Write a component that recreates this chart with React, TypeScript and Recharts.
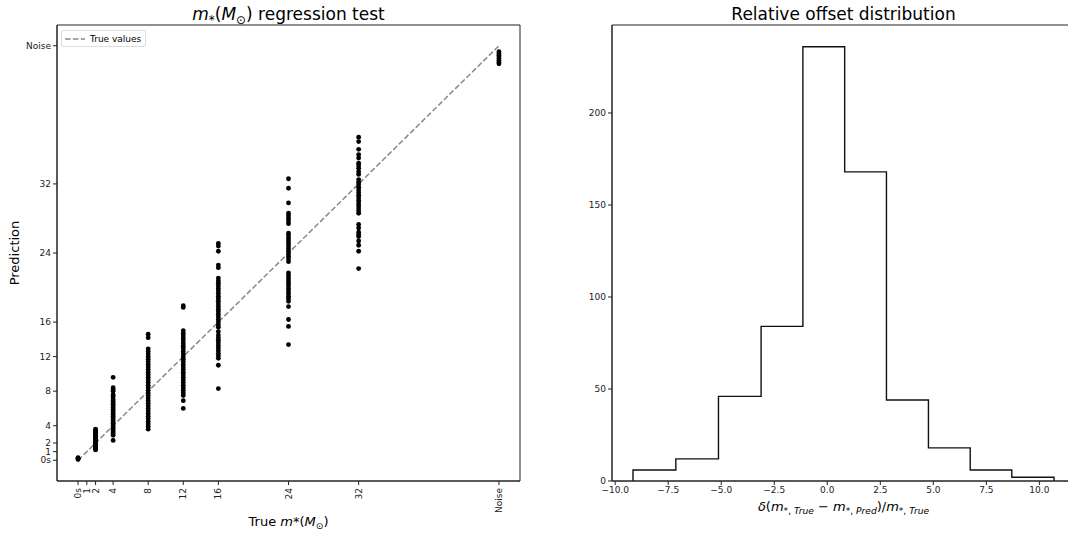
import React from 'react'
import { ComposedChart, Scatter, Line, XAxis, YAxis, ReferenceArea } from 'recharts'

// true stellar mass classes (Noise plotted at 48)
const trueMass = [0, 2, 4, 8, 12, 16, 24, 32, 48]
const massTicks = [0, 1, 2, 4, 8, 12, 16, 24, 32, 48]
const massTickLabels = ['0s', '1', '2', '4', '8', '12', '16', '24', '32', 'Noise']

// predictions read per class
const pred0 = [0.3, 0.2, 0.1, 0.15, 0.25]
const pred2 = [3.6, 3.5, 3.4, 3.3, 3.2, 3.1, 3.0, 2.9, 2.8, 2.7, 2.6, 2.5, 2.4, 2.3, 2.2, 2.1, 2.0, 1.9, 1.8, 1.7, 1.6, 1.5, 1.4, 1.3, 1.2]
const pred4 = [9.6, 8.4, 8.2, 8.0, 7.6, 7.4, 7.1, 6.9, 6.7, 6.5, 6.3, 6.1, 5.9, 5.7, 5.5, 5.3, 5.1, 4.9, 4.7, 4.5, 4.3, 4.1, 3.9, 3.7, 3.5, 3.3, 3.1, 2.9, 2.3]
const pred8 = [14.6, 14.2, 12.9, 12.6, 12.3, 12.0, 11.7, 11.4, 11.1, 10.8, 10.5, 10.2, 9.9, 9.6, 9.3, 9.0, 8.7, 8.4, 8.1, 7.8, 7.5, 7.2, 6.9, 6.6, 6.3, 6.0, 5.7, 5.4, 5.1, 4.8, 4.5, 4.2, 3.9, 3.6]
const pred12 = [17.9, 17.7, 15.0, 14.7, 14.4, 14.1, 13.8, 13.5, 13.2, 12.9, 12.6, 12.3, 12.0, 11.7, 11.4, 11.1, 10.8, 10.5, 10.2, 9.9, 9.6, 9.3, 9.0, 8.7, 8.4, 8.1, 7.8, 7.5, 6.9, 6.0]
const pred16 = [25.1, 24.8, 24.2, 22.6, 22.3, 21.1, 20.8, 20.5, 20.2, 19.9, 19.6, 19.3, 19.0, 18.7, 18.4, 18.1, 17.8, 17.5, 17.2, 16.9, 16.6, 16.3, 16.0, 15.7, 15.4, 14.9, 14.5, 14.2, 13.9, 13.6, 13.3, 13.0, 12.7, 12.4, 12.1, 11.8, 11.0, 8.3]
const pred24 = [32.6, 31.5, 29.8, 28.6, 28.3, 28.0, 27.7, 27.4, 26.3, 26.0, 25.7, 25.4, 25.1, 24.8, 24.5, 24.2, 23.9, 23.6, 23.3, 23.0, 21.7, 21.4, 21.1, 20.8, 20.5, 20.2, 19.9, 19.6, 19.3, 19.0, 18.7, 18.4, 17.8, 16.3, 15.5, 13.4]
const pred32 = [37.4, 36.9, 36.0, 35.4, 35.0, 34.4, 34.1, 33.8, 33.4, 33.1, 32.5, 32.2, 31.9, 31.6, 31.3, 31.0, 30.7, 30.4, 30.1, 29.8, 29.5, 29.2, 28.9, 28.6, 27.3, 26.9, 26.4, 26.1, 25.9, 25.4, 24.9, 24.2, 22.2]
const predNoise = [47.3, 47.1, 46.9, 46.7, 46.5, 46.3, 46.1, 45.9]

// histogram of relative offsets
const histEdges = [-9.16, -7.14, -5.13, -3.12, -1.15, 0.82, 2.79, 4.77, 6.74, 8.7, 10.69]
const histCounts = [6, 12, 46, 84, 236, 168, 44, 18, 6, 2]
const offsetTicks = [-10, -7.5, -5, -2.5, 0, 2.5, 5, 7.5, 10]
const countTicks = [0, 50, 100, 150, 200]

const massDomain = [-2.4, 50.4]
const offsetDomain = [-10.15, 11.68]
const countDomain = [0, 247.8]

const predictions = [pred0, pred2, pred4, pred8, pred12, pred16, pred24, pred32, predNoise]
const scatterData = trueMass.flatMap((m, i) => predictions[i].map(p => ({ x: m, y: p })))
const diagData = [
  { x: trueMass[0], y: trueMass[0] },
  { x: trueMass[trueMass.length - 1], y: trueMass[trueMass.length - 1] }
]
const stepData = [
  { x: histEdges[0], y: 0 },
  ...histCounts.map((c, i) => ({ x: histEdges[i], y: c })),
  { x: histEdges[histEdges.length - 1], y: 0 }
]

const FONT = 'DejaVu Sans, sans-serif'
const tickStyle = { fontSize: 9, fill: '#222', fontFamily: FONT }
const axisColor = '#222'

const massLabel = (v: number) => massTickLabels[massTicks.indexOf(v)] ?? String(v)
const fmtOffset = (v: number) => v.toFixed(1).replace('-', '\u2212')

const Dot = (props: any) => <circle cx={props.cx} cy={props.cy} r={2.4} fill='#000' />

const RotTick = (props: any) => {
  const { x, y, payload } = props
  return (
    <text
      x={x}
      y={y}
      transform={`rotate(-90 ${x} ${y})`}
      textAnchor='end'
      dy='0.35em'
      fontSize={9}
      fill='#222'
      fontFamily={FONT}
    >
      {massLabel(payload.value)}
    </text>
  )
}

const sub = { fontSize: '0.7em', verticalAlign: '-0.3em', lineHeight: 0 }

export default function App() {
  return (
    <div
      style={{
        position: 'absolute',
        left: 0,
        top: 0,
        width: 1068,
        height: 533,
        overflow: 'hidden',
        background: '#fff',
        fontFamily: FONT,
        color: '#000'
      }}
    >
      {/* left: regression scatter */}
      <div style={{ position: 'absolute', left: 0, top: 0 }}>
        <ComposedChart width={540} height={533} margin={{ top: 25, right: 20, bottom: 0, left: 0 }}>
          <XAxis
            xAxisId='b'
            type='number'
            dataKey='x'
            domain={massDomain}
            allowDataOverflow
            ticks={massTicks}
            interval={0}
            height={52}
            tick={<RotTick />}
            tickSize={4}
            tickMargin={3}
            stroke={axisColor}
          />
          <YAxis
            yAxisId='l'
            type='number'
            dataKey='y'
            domain={massDomain}
            allowDataOverflow
            ticks={massTicks}
            interval={0}
            width={57}
            tick={tickStyle}
            tickFormatter={massLabel}
            tickSize={4}
            tickMargin={2}
            stroke={axisColor}
          />
          <ReferenceArea
            xAxisId='b'
            yAxisId='l'
            x1={massDomain[0]}
            x2={massDomain[1]}
            y1={massDomain[0]}
            y2={massDomain[1]}
            fill='none'
            stroke={axisColor}
            strokeWidth={1}
            ifOverflow='visible'
          />
          <Line
            xAxisId='b'
            yAxisId='l'
            data={diagData}
            dataKey='y'
            type='linear'
            stroke='#888'
            strokeWidth={1.5}
            strokeDasharray='5.5 2.4'
            dot={false}
            activeDot={false}
            isAnimationActive={false}
          />
          <Scatter xAxisId='b' yAxisId='l' data={scatterData} dataKey='y' shape={<Dot />} isAnimationActive={false} />
        </ComposedChart>
      </div>

      {/* right: offset histogram */}
      <div style={{ position: 'absolute', left: 560, top: 0 }}>
        <ComposedChart width={535} height={533} margin={{ top: 25, right: 20, bottom: 0, left: 0 }}>
          <XAxis
            xAxisId='b'
            type='number'
            dataKey='x'
            domain={offsetDomain}
            allowDataOverflow
            ticks={offsetTicks}
            interval={0}
            height={52}
            tick={tickStyle}
            tickFormatter={fmtOffset}
            tickSize={4}
            tickMargin={2}
            stroke={axisColor}
          />
          <YAxis
            yAxisId='l'
            type='number'
            domain={countDomain}
            allowDataOverflow
            ticks={countTicks}
            interval={0}
            width={52}
            tick={tickStyle}
            tickSize={4}
            tickMargin={2}
            stroke={axisColor}
          />
          <ReferenceArea
            xAxisId='b'
            yAxisId='l'
            x1={offsetDomain[0]}
            x2={offsetDomain[1]}
            y1={countDomain[0]}
            y2={countDomain[1]}
            fill='none'
            stroke={axisColor}
            strokeWidth={1}
            ifOverflow='visible'
          />
          <Line
            xAxisId='b'
            yAxisId='l'
            data={stepData}
            dataKey='y'
            type='stepAfter'
            stroke='#111'
            strokeWidth={1.4}
            dot={false}
            activeDot={false}
            isAnimationActive={false}
          />
        </ComposedChart>
      </div>

      {/* legend */}
      <div
        style={{
          position: 'absolute',
          left: 61,
          top: 30,
          width: 85,
          height: 17,
          border: '1px solid #ddd',
          borderRadius: 2,
          background: '#fff',
          boxSizing: 'border-box',
          display: 'flex',
          alignItems: 'center',
          fontSize: 9
        }}
      >
        <svg width={26} height={10} style={{ marginLeft: 2 }}>
          <line x1={1} y1={5} x2={21} y2={5} stroke='#888' strokeWidth={1.5} strokeDasharray='5.5 2.4' />
        </svg>
        <span>True values</span>
      </div>

      {/* titles */}
      <div style={{ position: 'absolute', left: 57, width: 463, top: 4, textAlign: 'center', fontSize: 17, lineHeight: '20px' }}>
        <i>m</i><span style={sub}>*</span>(<i>M</i><span style={sub}>⊙</span>) regression test
      </div>
      <div style={{ position: 'absolute', left: 612, width: 463, top: 4, textAlign: 'center', fontSize: 17, lineHeight: '20px' }}>
        Relative offset distribution
      </div>

      {/* axis labels */}
      <div style={{ position: 'absolute', left: 57, width: 463, top: 513, textAlign: 'center', fontSize: 13, lineHeight: '18px' }}>
        True <i>m</i>*(<i>M</i><span style={sub}>⊙</span>)
      </div>
      <div style={{ position: 'absolute', left: 612, width: 463, top: 498, textAlign: 'center', fontSize: 13, lineHeight: '18px' }}>
        <i>δ</i>(<i>m</i><span style={sub}>*, <i>True</i></span> − <i>m</i><span style={sub}>*, <i>Pred</i></span>)/<i>m</i><span style={sub}>*, <i>True</i></span>
      </div>
      <div
        style={{
          position: 'absolute',
          left: 15 - 50,
          top: 253 - 9,
          width: 100,
          textAlign: 'center',
          fontSize: 13,
          lineHeight: '18px',
          transform: 'rotate(-90deg)'
        }}
      >
        Prediction
      </div>
    </div>
  )
}
